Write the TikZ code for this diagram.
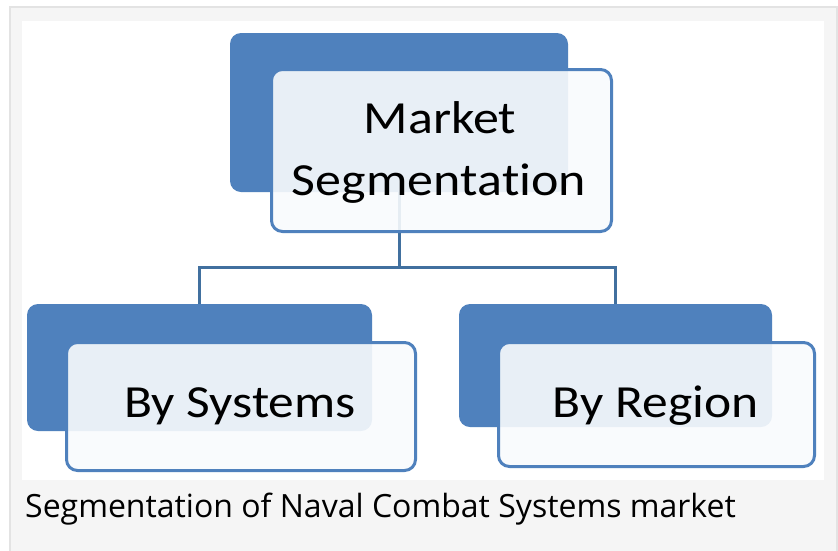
\documentclass[tikz,border=0pt]{standalone}
\usepackage{fontspec}
\setmainfont{Carlito}[Ligatures=NoCommon, RawFeature={-liga;-calt}]
\newfontfamily\capfont{Open Sans}
\definecolor{backblue}{HTML}{4F81BD}
\definecolor{edgeblue}{HTML}{4F81BD}
\definecolor{linkblue}{HTML}{41709F}
\definecolor{frontfill}{HTML}{F9FBFD}
\definecolor{framefill}{HTML}{F5F5F5}
\definecolor{frameline}{HTML}{E3E3E3}
\tikzset{
  backbox/.style={rectangle, rounded corners=11pt, fill=backblue, draw=none, inner sep=0pt},
  frontbox/.style={rectangle, rounded corners=11pt, fill=frontfill, fill opacity=0.9, draw=edgeblue, line width=3pt, inner sep=0pt},
  boxtext/.style={anchor=base, inner sep=0pt, font=\fontsize{46}{54}\selectfont, text=black},
  link/.style={draw=linkblue, line width=3pt},
}
\begin{document}
\begin{tikzpicture}[x=1pt,y=-1pt]
\useasboundingbox (0,0) rectangle (838,550);
\fill[white] (0,0) rectangle (838,550);
\filldraw[fill=framefill, draw=frameline, line width=1.5pt] (10,7) rectangle (837,552);
\fill[white] (22,21) rectangle (824,480);

\node[backbox, minimum width=338pt, minimum height=159pt] (topback) at (399,112.5) {};
\node[backbox, minimum width=345pt, minimum height=127pt] (leftback) at (199.5,367.5) {};
\node[backbox, minimum width=313pt, minimum height=123pt] (rightback) at (615.5,365.5) {};

\coordinate (bus) at (399,267);
\draw[link] (topback.south) -- (bus);
\draw[link] (bus) -| (leftback.north);
\draw[link] (bus) -| (rightback.north);

\node[frontbox, minimum width=340pt, minimum height=162pt] (topfront) at (441.5,150.5) {};
\node[frontbox, minimum width=349pt, minimum height=128pt] (leftfront) at (241,406.5) {};
\node[frontbox, minimum width=316pt, minimum height=124pt] (rightfront) at (656.5,404.5) {};

\node[boxtext] (t1) at (440,133) {\scalebox{1.13}[1]{Market}};
\node[boxtext] (t2) at (439,195) {\scalebox{1.13}[1]{Segmenta\kern0pt tion}};
\node[boxtext] (t3) at (240,417) {\scalebox{1.12}[1]{By Systems}};
\node[boxtext] (t4) at (655.5,417) {\scalebox{1.12}[1]{By Region}};

\node[anchor=base west, inner sep=0pt, font=\capfont\fontsize{32}{38}\selectfont] (cap) at (25,517) {Segmentation of Naval Combat Systems market};
\end{tikzpicture}
\end{document}
